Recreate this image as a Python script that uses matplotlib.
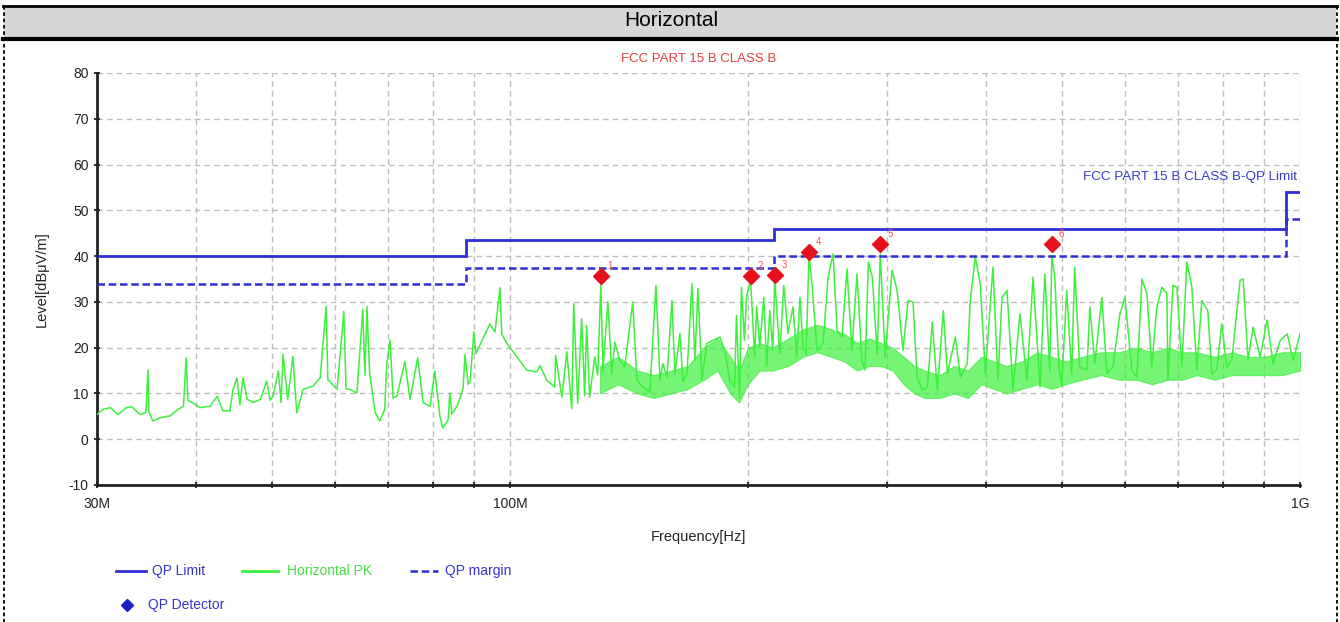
import matplotlib
matplotlib.use('Agg')
import matplotlib.pyplot as plt
from matplotlib.lines import Line2D
from matplotlib.patches import Rectangle

plt.rcParams['font.family'] = ['Liberation Sans', 'DejaVu Sans']
plt.rcParams['axes.unicode_minus'] = False

W, H = 1340, 622

# FCC part 15 B class B limit steps (MHz, dBuV/m)
limit_edges = [30, 88, 216, 960, 1000]
qp_limit = [40, 43.5, 46, 54]
qp_margin = [34, 37.5, 40, 48]

# QP detector points
qp_freq = [130.3, 201.6, 216.3, 239.0, 294.2, 485.1]
qp_level = [35.6, 35.6, 35.8, 41.0, 42.6, 42.6]
qp_names = ['1', '2', '3', '4', '5', '6']

# horizontal peak trace (MHz)
pk_freq = [
    30.0, 30.5, 31.2, 31.9, 32.7, 33.2, 34.0, 34.6, 34.8, 34.9, 35.3, 36.1,
    37.1, 38.0, 38.6, 38.9, 39.1, 39.6, 40.5, 41.7, 42.6, 43.3, 44.2, 44.6,
    45.1, 45.5, 45.9, 46.5, 47.3, 48.3, 49.2, 49.7, 50.1, 50.9, 51.3, 51.6,
    52.3, 53.1, 53.7, 54.7, 56.3, 57.5, 58.5, 58.8, 60.4, 61.6, 62.0, 62.7,
    64.0, 65.1, 65.5, 65.9, 66.4, 67.5, 68.4, 69.4, 69.8, 70.5, 71.1, 71.9,
    73.6, 74.7, 76.4, 77.6, 79.2, 80.3, 81.5, 82.2, 83.5, 83.9, 84.4, 85.7,
    87.2, 87.7, 88.5, 89.0, 90.0, 90.5, 92.4, 94.3, 95.7, 97.1, 97.6, 99.1,
    102.0, 105.0, 108.1, 109.1, 111.3, 113.9, 114.2, 116.3, 118.0, 119.7,
    120.4, 121.8, 123.2, 124.3, 125.0, 126.1, 127.2, 128.0, 129.1, 130.3,
    131.1, 131.8, 133.0, 134.5, 135.7, 137.7, 139.7, 143.0, 144.7,
    147.3, 150.3, 153.0, 154.8, 156.1, 158.0, 160.3, 161.7, 164.1, 165.5,
    167.5, 169.9, 171.4, 172.9, 174.9, 177.5, 180.6, 184.3, 187.0, 189.7,
    192.4, 193.5, 195.2, 196.3, 198.0, 199.2, 201.6, 204.0, 205.2, 207.0,
    209.5, 211.3, 213.2, 215.1, 216.3, 219.5, 222.1, 224.7, 228.1, 230.7,
    232.8, 234.9, 237.0, 239.0, 241.1, 244.7, 249.0, 252.7,
    256.4, 259.4, 263.2, 267.0, 270.9, 274.9, 278.9, 281.4, 284.2, 287.5,
    291.6, 294.2, 298.4, 304.5, 309.0, 314.4, 319.0, 323.7, 327.5, 332.6,
    337.5, 342.4, 347.5, 353.6, 357.8, 366.2, 371.6, 379.1, 382.4, 388.1,
    393.8, 399.6, 408.6, 414.6, 419.5, 425.7, 433.2, 442.1, 451.2, 459.2,
    468.7, 475.3, 482.2, 485.1, 489.3, 495.0,
    499.3, 506.6, 514.0, 518.5, 526.1, 537.3, 542.0, 549.9, 561.3, 569.6,
    579.7, 591.6, 600.3, 612.6, 621.6, 630.9, 640.0, 649.3, 658.8, 668.7,
    678.4, 680.4, 690.4, 698.5, 708.7, 719.0, 729.6, 740.2, 751.1, 764.3,
    773.3, 784.6, 796.1, 807.8, 819.6, 839.8, 847.2, 859.6, 872.2, 890.2,
    908.6, 924.7, 943.8, 963.3, 980.3, 1000.0,
]
pk_level = [
    5.4, 6.5, 6.9, 5.4, 6.9, 7.1, 5.4, 5.8, 15.2, 6.0, 4.0, 4.7,
    5.1, 6.5, 7.2, 17.8, 8.5, 8.0, 6.9, 7.2, 9.4, 6.2, 6.2, 10.9,
    13.4, 7.5, 13.4, 8.7, 8.0, 8.7, 12.7, 8.5, 9.4, 14.9, 8.0, 18.5,
    8.7, 18.1, 5.8, 10.9, 11.6, 13.4, 29.0, 13.0, 10.9, 27.9, 11.0, 10.9,
    10.1, 28.3, 14.0, 29.0, 14.5, 5.8, 4.0, 6.5, 16.3, 21.7, 9.0, 9.4,
    17.0, 8.7, 17.8, 8.0, 7.2, 14.9, 5.1, 2.5, 4.3, 10.1, 5.5, 7.2,
    10.9, 18.5, 12.0, 12.5, 23.5, 18.7, 22.0, 25.2, 23.4, 33.1, 23.0, 20.9,
    18.0, 15.1, 14.7, 16.1, 12.9, 11.4, 18.3, 9.2, 19.1, 6.7,
    29.6, 7.8, 26.3, 9.5, 24.9, 9.2, 14.3, 18.0, 14.0, 34.0,
    15.0, 20.9, 30.0, 14.3, 21.2, 17.2, 15.8, 30.0, 12.9,
    11.4, 10.3, 33.6, 12.9, 16.5, 13.6, 30.3, 14.3, 23.1, 12.5,
    14.3, 34.0, 17.2, 32.9, 12.9, 20.9, 21.6, 22.3, 19.4, 12.9,
    11.4, 27.0, 8.9, 33.2, 21.6, 31.0, 35.0, 18.0, 29.0, 20.1,
    31.0, 16.0, 28.1, 19.4, 35.0, 18.7, 33.6, 23.1, 28.9, 18.0,
    31.0, 20.1, 18.5, 40.1, 34.0, 19.4, 20.9, 35.4,
    40.5, 23.8, 22.3, 37.2, 19.4, 36.1, 17.2, 15.1, 38.7, 35.4,
    18.7, 40.5, 18.0, 36.9, 32.5, 19.4, 30.3, 30.0, 13.6, 10.7,
    11.4, 25.6, 10.7, 28.1, 14.3, 22.3, 13.6, 16.5, 30.3, 39.8,
    34.0, 14.3, 37.6, 12.9, 31.0, 32.5, 10.7, 27.4, 12.9, 35.4,
    11.4, 36.1, 15.0, 40.0, 35.4, 16.0,
    11.8, 32.5, 14.3, 37.6, 15.8, 15.1, 28.9, 16.5, 31.0, 14.3,
    15.8, 27.4, 31.0, 15.1, 13.6, 35.0, 31.8, 15.8, 28.9, 33.2,
    31.8, 12.9, 33.6, 33.2, 15.8, 38.7, 33.2, 15.1, 30.3, 28.1,
    14.3, 15.1, 25.2, 15.8, 17.2, 34.7, 35.0, 17.2, 24.5, 18.0,
    26.0, 16.5, 21.6, 23.0, 17.2, 23.0,
]

# dense noise floor band above ~130 MHz (lower and upper edge)
band_freq = [130, 137, 145, 152, 160, 168, 176, 183, 190, 195, 200, 207, 215,
             225, 235, 245, 255, 265, 275, 285, 295, 305, 315, 325, 335, 350,
             365, 380, 395, 410, 425, 445, 465, 485, 505, 530, 560, 590, 620,
             650, 680, 710, 740, 780, 820, 860, 900, 950, 1000]
band_low = [10, 12, 10, 9, 10, 11, 13, 15, 10, 8, 12, 15, 15,
            16, 18, 19, 18, 17, 15, 16, 16, 15, 12, 10, 9, 9,
            10, 9, 12, 11, 10, 11, 12, 11, 12, 13, 14, 13, 13,
            12, 13, 13, 14, 13, 14, 14, 14, 14, 15]
band_high = [16, 18, 15, 14, 15, 16, 20, 22, 18, 15, 20, 21, 20,
             22, 24, 25, 24, 23, 21, 22, 21, 20, 18, 16, 15, 14,
             16, 15, 18, 17, 16, 17, 19, 18, 17, 18, 19, 19, 20,
             19, 20, 19, 19, 18, 19, 18, 18, 19, 19]

y_ticks = [-10, 0, 10, 20, 30, 40, 50, 60, 70, 80]
x_major = [30, 100, 1000]
x_major_labels = ['30M', '100M', '1G']
x_minor = [40, 50, 60, 70, 80, 90, 200, 300, 400, 500, 600, 700, 800, 900]

BLUE = '#2e2ed6'
GREEN = '#3cf03c'
RED = '#e8101c'


def fx(x):
    return x / W


def fy(y):
    return 1 - y / H


fig = plt.figure(figsize=(W / 100, H / 100), dpi=100)

# page frame and header
fig.add_artist(Rectangle((fx(4), fy(38)), fx(1332), 32 / H, transform=fig.transFigure,
                         facecolor='#d6d6d6', edgecolor='none'))
fig.add_artist(Line2D([fx(3), fx(1337)], [fy(6), fy(6)], transform=fig.transFigure,
                      color='black', lw=2))
fig.add_artist(Line2D([fx(3), fx(1337)], [fy(38.5), fy(38.5)], transform=fig.transFigure,
                      color='black', lw=3))
for xe in (3.5, 1336.5):
    fig.add_artist(Line2D([fx(xe), fx(xe)], [fy(6), 0], transform=fig.transFigure,
                          color='black', lw=1.3, dashes=(2, 1.5)))
fig.text(fx(671), fy(21), 'Horizontal', ha='center', va='center', fontsize=15)

ax = fig.add_axes([fx(97), fy(485), fx(1300) - fx(97), (485 - 73) / H])
ax.set_xscale('log')

ax.fill_between(band_freq, band_low, band_high, color=GREEN, lw=0.8, alpha=0.7, zorder=2)
ax.plot(pk_freq, pk_level, color=GREEN, lw=1.1, zorder=3)
ax.stairs(qp_limit, limit_edges, baseline=None, color=BLUE, lw=2, zorder=4)
ax.stairs(qp_margin, limit_edges, baseline=None, color=BLUE, lw=1.8,
          linestyle=(0, (3, 1.5)), zorder=4)
ax.plot(qp_freq, qp_level, 'D', color=RED, markersize=8.5, zorder=5)
for f, lv, n in zip(qp_freq, qp_level, qp_names):
    ax.annotate(n, (f, lv), xytext=(5, 5), textcoords='offset points',
                color='#ff5050', fontsize=7, zorder=6)

ax.set_xlim(30, 1000)
ax.set_ylim(-10, 80)
ax.set_yticks(y_ticks)
ax.set_xticks(x_major)
ax.set_xticklabels(x_major_labels)
ax.set_xticks(x_minor, minor=True)
ax.set_xticklabels([], minor=True)
ax.grid(True, which='both', color='#bdbdbd', lw=1, dashes=(4, 3))
ax.set_axisbelow(True)
ax.tick_params(axis='both', which='both', direction='inout', length=5, width=1.3,
               labelsize=10, colors='#222222')
ax.tick_params(axis='x', which='major', pad=6)
for s in ('top', 'right'):
    ax.spines[s].set_visible(False)
for s in ('left', 'bottom'):
    ax.spines[s].set_linewidth(2)
    ax.spines[s].set_color('#222222')

ax.set_xlabel('Frequency[Hz]', fontsize=10.5, color='#222222', labelpad=14)
ax.set_ylabel('Level[dBμV/m]', fontsize=10.5, color='#222222', labelpad=14)
ax.set_title('FCC PART 15 B CLASS B', color='#e83c3c', fontsize=9.5, pad=8)
ax.text(1000 * 0.992, 57.3, 'FCC PART 15 B CLASS B-QP Limit', ha='right', va='center',
        color='#3a3ad0', fontsize=9.7)

# legend under the plot
fig.add_artist(Line2D([fx(116), fx(146)], [fy(571), fy(571)], transform=fig.transFigure,
                      color=BLUE, lw=2))
fig.text(fx(152), fy(571), 'QP Limit', va='center', fontsize=10, color='#3636c8')
fig.add_artist(Line2D([fx(242), fx(278)], [fy(571), fy(571)], transform=fig.transFigure,
                      color=GREEN, lw=2))
fig.text(fx(287), fy(571), 'Horizontal PK', va='center', fontsize=10, color='#44dd44')
fig.add_artist(Line2D([fx(410), fx(438)], [fy(571), fy(571)], transform=fig.transFigure,
                      color=BLUE, lw=1.8, dashes=(3, 1.5)))
fig.text(fx(445), fy(571), 'QP margin', va='center', fontsize=10, color='#3636c8')
fig.add_artist(Line2D([fx(127)], [fy(605)], transform=fig.transFigure, marker='D',
                      color='#1c1cc8', markersize=6, lw=0))
fig.text(fx(148), fy(605), 'QP Detector', va='center', fontsize=10, color='#3636c8')

fig.savefig('out.png', dpi=100)
